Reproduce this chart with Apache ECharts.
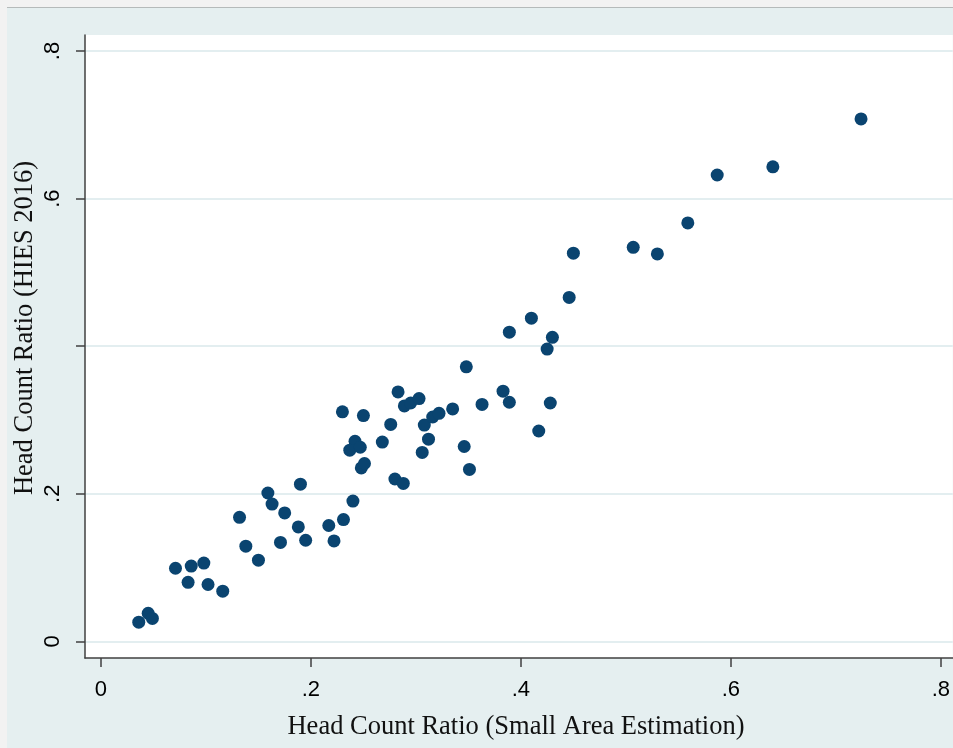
<!DOCTYPE html>
<html>
<head>
<meta charset="utf-8">
<script src="https://cdn.jsdelivr.net/npm/echarts@6/dist/echarts.min.js"></script>
<style>
  html, body { margin: 0; padding: 0; background: #f2f2f2; }
  #chart { width: 953px; height: 748px; }
</style>
</head>
<body>
<div id="chart"></div>
<script>
// Head count ratio: small area estimation (x) vs HIES 2016 (y)
var saeRatio = [
  0.036, 0.045, 0.049, 0.071, 0.086, 0.098, 0.083, 0.102, 0.116, 0.132,
  0.138, 0.150, 0.159, 0.163, 0.175, 0.188, 0.171, 0.195, 0.190, 0.217,
  0.222, 0.231, 0.240, 0.230, 0.250, 0.242, 0.237, 0.247, 0.248, 0.251,
  0.268, 0.276, 0.283, 0.289, 0.295, 0.303, 0.280, 0.288, 0.306, 0.312,
  0.308, 0.316, 0.322, 0.335, 0.346, 0.351, 0.348, 0.363, 0.383, 0.389,
  0.389, 0.410, 0.417, 0.425, 0.428, 0.430, 0.446, 0.450, 0.507, 0.530,
  0.559, 0.587, 0.640, 0.724
];
var hiesRatio = [
  0.026, 0.038, 0.031, 0.099, 0.102, 0.106, 0.080, 0.077, 0.068, 0.168,
  0.129, 0.110, 0.201, 0.186, 0.174, 0.155, 0.134, 0.137, 0.213, 0.157,
  0.136, 0.165, 0.190, 0.311, 0.306, 0.271, 0.259, 0.263, 0.235, 0.241,
  0.270, 0.294, 0.338, 0.319, 0.323, 0.329, 0.220, 0.214, 0.256, 0.274,
  0.293, 0.304, 0.309, 0.315, 0.264, 0.233, 0.372, 0.321, 0.339, 0.324,
  0.419, 0.438, 0.285, 0.396, 0.323, 0.412, 0.466, 0.526, 0.534, 0.525,
  0.567, 0.632, 0.643, 0.708
];
var xTicks = [0, 0.2, 0.4, 0.6, 0.8];
var yTicks = [0, 0.2, 0.4, 0.6, 0.8];
var yLabels = [0, 0.2, 0.6, 0.8];   // .4 is hidden under the title in the original

var points = saeRatio.map(function (x, i) { return [x, hiesRatio[i]]; });

function fmt(v) {
  if (v === 0) return '0';
  return String(+v.toFixed(1)).replace(/^0/, '');
}

var axisCol = '#404040';
var option = {
  backgroundColor: '#e5eff0',
  animation: false,
  graphic: [
    { type: 'rect', shape: { x: 0, y: 0, width: 953, height: 7 }, style: { fill: '#f2f2f2' }, silent: true },
    { type: 'rect', shape: { x: 0, y: 0, width: 7, height: 748 }, style: { fill: '#f2f2f2' }, silent: true },
    { type: 'line', shape: { x1: 7, y1: 7.5, x2: 953, y2: 7.5 }, style: { stroke: '#b5baba', lineWidth: 1 }, silent: true },
    {
      type: 'text', x: 516, y: 727, silent: true,
      style: {
        text: 'Head Count Ratio (Small Area Estimation)',
        font: '26.5px "Liberation Serif"', fill: '#111',
        textAlign: 'center', textVerticalAlign: 'middle'
      }
    },
    {
      type: 'text', x: 25, y: 328, rotation: Math.PI / 2, silent: true,
      style: {
        text: 'Head Count Ratio (HIES 2016)',
        font: '26.5px "Liberation Serif"', fill: '#111',
        textAlign: 'center', textVerticalAlign: 'middle'
      }
    }
  ],
  grid: {
    left: 85, right: 0, top: 35, bottom: 90,
    show: true, backgroundColor: '#ffffff', borderWidth: 0
  },
  xAxis: {
    type: 'value',
    min: -0.0152, max: 0.8114,
    axisLine: { show: true, onZero: false, lineStyle: { color: axisCol, width: 1.5 } },
    axisTick: { show: true, length: 9, customValues: xTicks, lineStyle: { color: axisCol, width: 1.5 } },
    axisLabel: {
      customValues: xTicks, formatter: fmt, margin: 21,
      fontFamily: 'Liberation Sans', fontSize: 22, color: '#000'
    },
    splitLine: { show: false }
  },
  yAxis: {
    type: 'value',
    min: -0.0226, max: 0.8217,
    axisLine: { show: true, onZero: false, lineStyle: { color: axisCol, width: 1.5 } },
    axisTick: { show: true, length: 9, customValues: yTicks, lineStyle: { color: axisCol, width: 1.5 } },
    axisLabel: {
      customValues: yLabels, formatter: fmt, margin: 21, rotate: 90,
      fontFamily: 'Liberation Sans', fontSize: 22, color: '#000'
    },
    splitLine: { show: true, lineStyle: { color: '#e3eef0', width: 2 } }
  },
  series: [{
    type: 'scatter',
    data: points,
    symbol: 'circle',
    symbolSize: 13,
    itemStyle: { color: '#0a4470', opacity: 1 }
  }]
};

echarts.init(document.getElementById('chart')).setOption(option);
</script>
</body>
</html>
